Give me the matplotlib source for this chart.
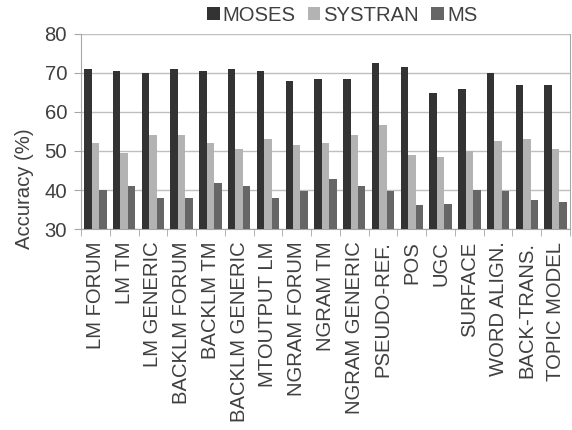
import numpy as np
import matplotlib
matplotlib.use('Agg')
import matplotlib.pyplot as plt

plt.rcParams['font.family'] = ['Liberation Sans', 'DejaVu Sans']

# feature sets on the x axis
categories = ['LM FORUM', 'LM TM', 'LM GENERIC', 'BACKLM FORUM', 'BACKLM TM',
              'BACKLM GENERIC', 'MTOUTPUT LM', 'NGRAM FORUM', 'NGRAM TM',
              'NGRAM GENERIC', 'PSEUDO-REF.', 'POS', 'UGC', 'SURFACE',
              'WORD ALIGN.', 'BACK-TRANS.', 'TOPIC MODEL']

moses = [71.0, 70.5, 70.0, 71.0, 70.5, 71.0, 70.5, 68.0, 68.5, 68.5,
         72.6, 71.5, 64.9, 65.9, 70.0, 66.9, 66.9]
systran = [52.0, 49.4, 54.1, 54.1, 52.0, 50.5, 53.1, 51.5, 52.0, 54.1,
           56.7, 49.0, 48.5, 50.0, 52.6, 53.1, 50.5]
ms = [40.0, 41.0, 38.0, 38.0, 41.8, 41.0, 38.0, 39.7, 42.8, 41.0,
      39.7, 36.2, 36.4, 40.0, 39.7, 37.4, 36.9]

series = [('MOSES', moses, '#333333'),
          ('SYSTRAN', systran, '#b3b3b3'),
          ('MS', ms, '#666666')]

fig = plt.figure(figsize=(5.72, 4.30), dpi=100)
ax = fig.add_axes([0.1416, 0.4674, 0.8549, 0.4536])

x = np.arange(len(categories))
w = 0.26
for i, (name, vals, col) in enumerate(series):
    ax.bar(x + (i - 1) * w, np.array(vals) - 30, width=w, bottom=30,
           color=col, label=name, zorder=3)

ax.set_xlim(-0.5, len(categories) - 0.5)
ax.set_ylim(30, 80)
ax.set_yticks([30, 40, 50, 60, 70, 80])
ax.yaxis.grid(True, color='#bfbfbf', linewidth=1, zorder=0)

gray = '#a6a6a6'
txt = '#404040'
fs = 14.6
for s in ax.spines.values():
    s.set_color(gray)
ax.spines['top'].set_visible(False)

ax.set_xticks(x)
ax.set_xticklabels(categories, rotation=90, fontsize=fs, color=txt)
ax.set_xticks(np.arange(len(categories) + 1) - 0.5, minor=True)
ax.tick_params(axis='x', which='major', length=0, pad=9)
ax.tick_params(axis='x', which='minor', length=5, color=gray)
ax.tick_params(axis='y', length=5, pad=5, color=gray, labelsize=fs, labelcolor=txt)

# axis title sits low, as in the original
fig.text(24 / 572, 1 - 189 / 430, 'Accuracy (%)', rotation=90, ha='center',
         va='center', fontsize=fs, color=txt)

fig.legend(loc='center', bbox_to_anchor=(0.598, 0.965), ncol=3, frameon=False,
           fontsize=fs, handlelength=0.63, handleheight=0.63,
           handletextpad=0.15, columnspacing=0.6, labelcolor=txt)

fig.savefig('out.png', dpi=100)
